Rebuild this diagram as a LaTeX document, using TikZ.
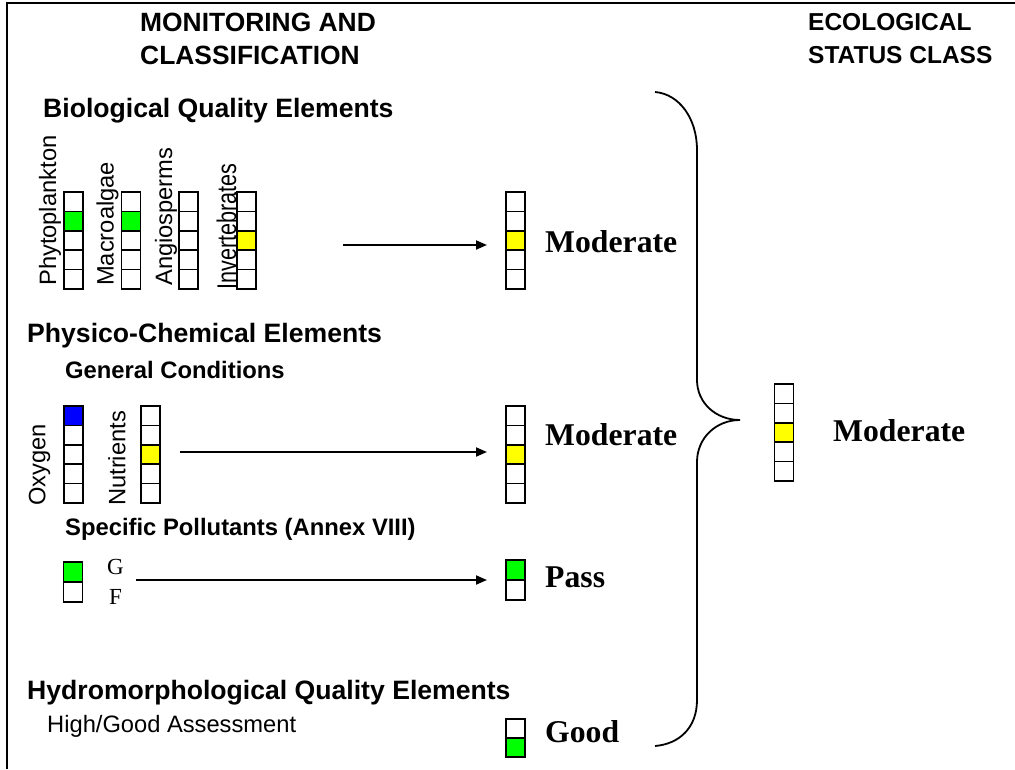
\documentclass[tikz,border=0pt]{standalone}
\usepackage{fontspec}
\setmainfont{Liberation Serif}
\setsansfont{Liberation Sans}
\usetikzlibrary{arrows.meta}
\definecolor{qgreen}{RGB}{0,255,0}
\definecolor{qyellow}{RGB}{255,255,0}
\definecolor{qblue}{RGB}{0,0,255}
\tikzset{
  cell/.style={draw, line width=1.6pt, minimum width=19pt, inner sep=0pt, outer sep=0pt},
  hdr/.style={font=\sffamily\bfseries\fontsize{26.4}{33}\selectfont, align=left, anchor=west, inner sep=0pt},
  sec/.style={font=\sffamily\bfseries\fontsize{26.6}{30}\selectfont, anchor=base west, inner sep=0pt},
  subsec/.style={font=\sffamily\bfseries\fontsize{23.8}{28}\selectfont, anchor=base west, inner sep=0pt},
  lab/.style={font=\sffamily\fontsize{23.7}{28}\selectfont, inner sep=0pt},
  vlab/.style={lab, rotate=90, anchor=west},
  res/.style={font=\rmfamily\bfseries\fontsize{31.7}{36}\selectfont, anchor=base west, inner sep=0pt},
  gf/.style={font=\rmfamily\fontsize{23}{26}\selectfont, anchor=base west, inner sep=0pt},
  arr/.style={line width=1.8pt, -{Triangle[length=11pt,width=9pt]}, shorten >=19pt},
  brace/.style={line width=1.8pt},
  frame/.style={line width=1.8pt}
}
% name, x, top, n, cell height, coloured index, colour
\newcommand\cellbar[7]{%
  \foreach \i in {1,...,#4}{%
    \ifnum\i=#6\relax\def\fc{#7}\else\def\fc{white}\fi
    \node[cell, minimum height=#5pt, fill=\fc] (#1-\i) at (#2,{#3+(\i-0.5)*#5}) {};
  }%
}
\begin{document}
\begin{tikzpicture}[x=1pt,y=-1pt]
\useasboundingbox (0,0) rectangle (1015,769);
\fill[white] (0,0) rectangle (1015,769);
\draw[frame] (7,769) -- (7,3) -- (1015,3);

% headers
\node[hdr] (hmon) at (140,39) {MONITORING AND\\CLASSIFICATION};
\node[hdr, font=\sffamily\bfseries\fontsize{24.5}{33}\selectfont] (heco) at (808,39) {ECOLOGICAL\\STATUS CLASS};

% biological
\node[sec] (tbio) at (43,117) {Biological Quality Elements};
\cellbar{phy}{73.5}{192}{5}{19.4}{2}{qgreen}
\cellbar{mac}{131}{192}{5}{19.4}{2}{qgreen}
\cellbar{ang}{188.5}{192}{5}{19.4}{0}{white}
\cellbar{inv}{246.5}{192}{5}{19.4}{3}{qyellow}
\node[vlab] (lphy) at (50,286) {Phytoplankton};
\node[vlab] (lmac) at (107.5,286) {Macroalgae};
\node[vlab] (lang) at (166,286) {Angiosperms};
\node[vlab] (linv) at (226.5,290) {\scalebox{0.8}[1]{\fontsize{27}{30}\selectfont Invertebrates}};
\cellbar{ra}{515.5}{192}{5}{19.4}{3}{qyellow}
\node[res] (mod1) at (545,252.5) {Moderate};
\coordinate (a1s) at (343,245);
\draw[arr] (a1s) -- (a1s -| ra-3.west);

% physico-chemical
\node[sec] (tphc) at (27,342) {Physico-Chemical Elements};
\node[subsec] (tgen) at (65,378.5) {General Conditions};
\cellbar{oxy}{73.5}{406}{5}{19.4}{1}{qblue}
\cellbar{nut}{150.5}{406}{5}{19.4}{3}{qyellow}
\node[vlab] (loxy) at (39.5,506) {Oxygen};
\node[vlab] (lnut) at (117,506) {Nutrients};
\cellbar{rb}{515.5}{406}{5}{19.4}{3}{qyellow}
\node[res] (mod2) at (545,445.5) {Moderate};
\coordinate (a2s) at (180,452);
\draw[arr] (a2s) -- (a2s -| rb-3.west);

\node[subsec] (tspe) at (65,535.5) {Specific Pollutants (Annex VIII)};
\cellbar{gfb}{73}{562}{2}{20}{1}{qgreen}
\node[gf] (lg) at (107,574) {G};
\node[gf] (lf) at (109,604) {F};
\cellbar{rc}{515.5}{560}{2}{20}{1}{qgreen}
\node[res] (pass) at (545,587.5) {Pass};
\coordinate (a3s) at (136,580);
\draw[arr] (a3s) -- (a3s -| rc-1.west);

% hydromorphological
\node[sec] (thyd) at (27,699) {Hydromorphological Quality Elements};
\node[lab, anchor=base west] (lhg) at (47,732.5) {High/Good Assessment};
\cellbar{rd}{515.5}{719}{2}{19}{2}{qgreen}
\node[res] (good) at (545,742.5) {Good};

% brace
\draw[brace] (655,92) .. controls (679,94) and (697,118) .. (697,150)
  -- (697,380) .. controls (697,403) and (716,420) .. (740,420)
  .. controls (716,420) and (697,438) .. (697,462)
  -- (697,700) .. controls (697,728) and (679,744) .. (655,746);

% final status
\cellbar{fin}{784}{384}{5}{19.4}{3}{qyellow}
\node[res] (modf) at (833,441.5) {Moderate};
\end{tikzpicture}
\end{document}
